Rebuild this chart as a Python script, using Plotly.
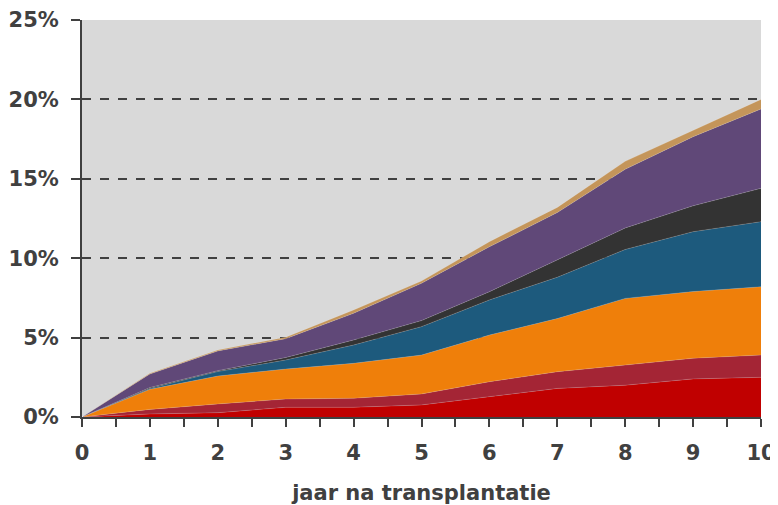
import plotly.graph_objects as go

jaar = [0, 1, 2, 3, 4, 5, 6, 7, 8, 9, 10]

# layer values in %, bottom to top (stacked)
laag1 = [0, 0.19, 0.27, 0.61, 0.61, 0.76, 1.28, 1.80, 2.00, 2.40, 2.50]
laag2 = [0, 0.29, 0.55, 0.52, 0.57, 0.69, 0.94, 1.05, 1.27, 1.30, 1.40]
laag3 = [0, 1.26, 1.76, 1.89, 2.20, 2.45, 2.94, 3.35, 4.20, 4.20, 4.30]
laag4 = [0, 0.06, 0.28, 0.57, 1.15, 1.79, 2.21, 2.60, 3.08, 3.77, 4.10]
laag5 = [0, 0.05, 0.06, 0.15, 0.32, 0.38, 0.52, 1.10, 1.35, 1.63, 2.10]
laag6 = [0, 0.86, 1.24, 1.19, 1.68, 2.35, 2.83, 2.97, 3.70, 4.35, 5.00]
laag7 = [0, 0.04, 0.06, 0.09, 0.21, 0.14, 0.32, 0.33, 0.50, 0.42, 0.60]

lagen = [laag1, laag2, laag3, laag4, laag5, laag6, laag7]
kleuren = ["#C00000", "#A42535", "#EF7F0A", "#1D5A7D", "#333333", "#604878", "#C4955A"]

fig = go.Figure()
for vals, kleur in zip(lagen, kleuren):
    fig.add_trace(go.Scatter(
        x=jaar, y=vals, stackgroup="a", mode="lines",
        line=dict(width=0.6, color="rgba(255,255,255,0.25)"),
        fillcolor=kleur, hoverinfo="skip", showlegend=False))

font = dict(family="DejaVu Sans", size=21, color="#404040", weight="bold")

# page body has an 8px margin, so the figure is a bit smaller than the window
fig.update_layout(
    width=770, height=497,
    margin=dict(l=74, r=17, t=12, b=88),
    paper_bgcolor="white", plot_bgcolor="#D9D9D9",
    font=font,
)
fig.update_xaxes(
    range=[0, 10], dtick=1, showgrid=False, automargin=False,
    showline=True, linecolor="#404040", linewidth=2,
    ticks="outside", ticklen=8, tickwidth=1.5, tickcolor="#404040",
    minor=dict(dtick=0.5, ticks="outside", ticklen=8, tickwidth=1.5, tickcolor="#404040"),
    ticklabelstandoff=8,
    title=dict(text="jaar na transplantatie", font=dict(size=21), standoff=24),
    zeroline=False,
)
fig.update_yaxes(
    range=[0, 25], dtick=5, ticksuffix="%", automargin=False,
    showgrid=True, gridcolor="#404040", gridwidth=1.5, griddash="dash",
    showline=True, linecolor="#404040", linewidth=2,
    ticks="outside", ticklen=9, tickwidth=1.5, tickcolor="#404040",
    ticklabelstandoff=8,
    zeroline=False,
)

fig.write_html("out.html")
